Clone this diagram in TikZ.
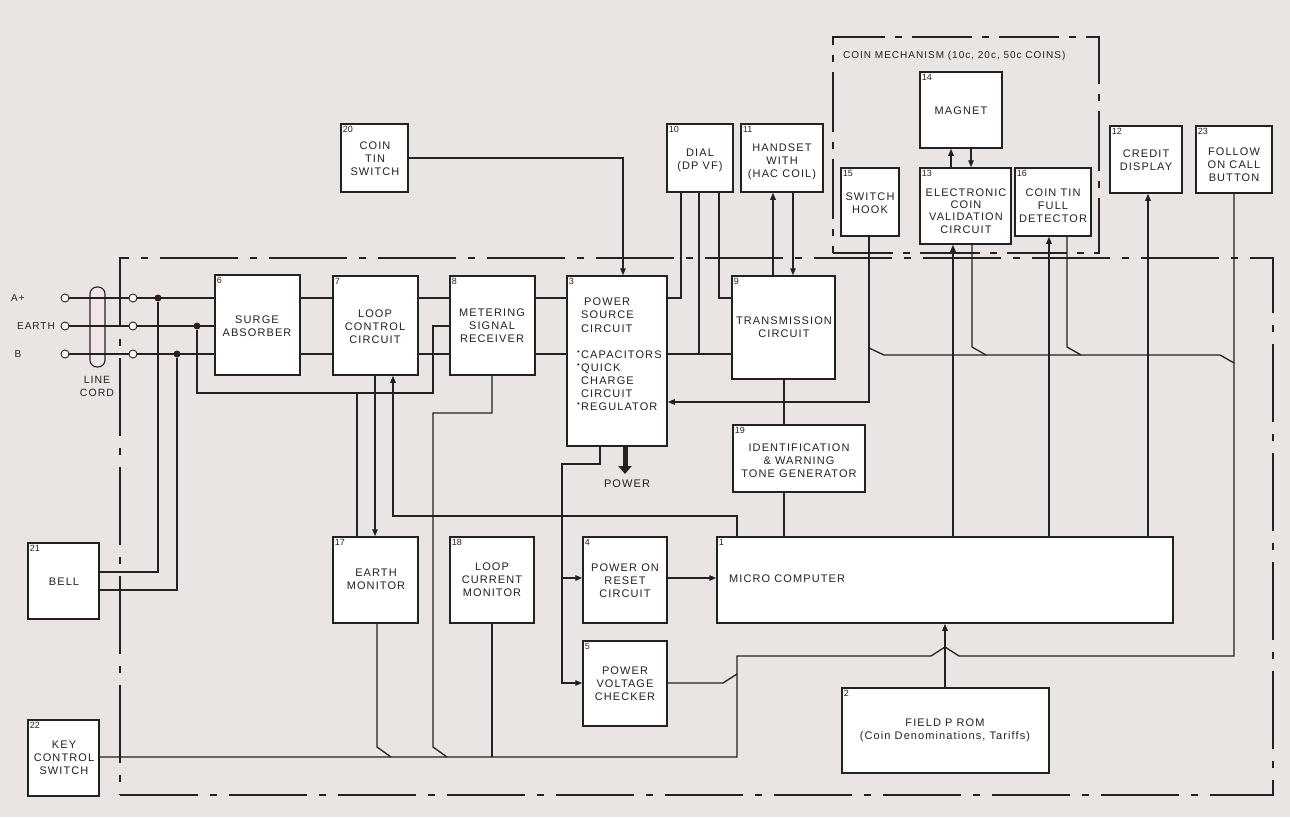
\documentclass[tikz,border=0pt]{standalone}
\usepackage{fontspec}
\setmainfont{Liberation Sans}
\newfontfamily\bxf{Liberation Sans}[LetterSpace=10]
\usetikzlibrary{arrows.meta,fit}
\definecolor{bgc}{RGB}{234,228,226}
\definecolor{ink}{RGB}{35,33,35}
\definecolor{dotc}{RGB}{60,25,35}
\definecolor{cordc}{RGB}{240,230,232}
\newcommand\bbox[6]{\node[blk, fit={(#2,#3)(#4,#5)}] (#1) {};\node[num] (#1n) at (#1.north west) {#6};}
\newcommand\pbul{\llap{\raisebox{4pt}{\scalebox{0.7}{•}}\hspace{1.5pt}}}
\begin{document}
\begin{tikzpicture}[x=1pt,y=-1pt,
 blk/.style={draw=ink, line width=1.5pt, fill=white, inner sep=0pt},
 num/.style={anchor=north west, inner sep=2.5pt, text=ink, font=\fontsize{9}{10}\selectfont},
 txt/.style={align=center, text=ink, inner sep=0pt, font=\bxf\fontsize{11}{13}\selectfont},
 wire/.style={draw=ink, line width=1.3pt},
 arr/.style={wire, -{Triangle[length=7pt,width=5.5pt]}},
 bound/.style={draw=ink, line width=1.3pt, dash pattern=on 78pt off 12pt on 7pt off 12pt, inner sep=0pt},
 term/.style={circle, draw=ink, fill=white, line width=0.9pt, minimum size=8pt, inner sep=0pt},
 jdot/.style={circle, fill=dotc, minimum size=7pt, inner sep=0pt},
 cord/.style={draw=ink, fill=cordc, line width=1.1pt, rounded corners=7pt, inner sep=0pt},
]
\useasboundingbox (0,0) rectangle (1290,817);
\fill[bgc] (0,0) rectangle (1290,817);

% frames
\node[bound, fit={(120,258)(1273,795)}] (frame) {};
\node[bound, dash pattern=on 60pt off 10pt on 7pt off 10pt, fit={(833,37)(1099,253)}] (cm) {};
\node[anchor=west, text=ink, inner sep=0pt, font=\bxf\fontsize{10}{12}\selectfont] (cml) at (843,56) {COIN MECHANISM (10c, 20c, 50c COINS)};

% boxes
\bbox{n6}{215}{275}{300}{375}{6}
\bbox{n7}{333}{276}{418}{375}{7}
\bbox{n8}{450}{276}{535}{375}{8}
\bbox{n3}{567}{276}{667}{446}{3}
\bbox{n9}{732}{276}{835}{379}{9}
\bbox{n19}{733}{425}{865}{492}{19}
\bbox{n1}{717}{537}{1173}{623}{1}
\bbox{n2}{842}{688}{1049}{773}{2}
\bbox{n4}{583}{537}{667}{623}{4}
\bbox{n5}{583}{641}{667}{726}{5}
\bbox{n18}{450}{537}{534}{623}{18}
\bbox{n17}{333}{537}{418}{623}{17}
\bbox{n21}{28}{543}{99}{619}{21}
\bbox{n22}{28}{720}{99}{796}{22}
\bbox{n20}{341}{124}{408}{192}{20}
\bbox{n10}{667}{124}{733}{192}{10}
\bbox{n11}{741}{124}{823}{192}{11}
\bbox{n15}{841}{168}{899}{236}{15}
\bbox{n14}{920}{72}{1002}{148}{14}
\bbox{n13}{920}{168}{1011}{244}{13}
\bbox{n16}{1015}{168}{1091}{236}{16}
\bbox{n12}{1110}{126}{1182}{193}{12}
\bbox{n23}{1196}{126}{1272}{193}{23}

% box texts
\node[txt] (t6) at (257,326) {SURGE\\ABSORBER};
\node[txt] (t7) at (375,327) {LOOP\\CONTROL\\CIRCUIT};
\node[txt] (t8) at (492,326) {METERING\\SIGNAL\\RECEIVER};
\node[txt, align=left, anchor=north west, font=\bxf\fontsize{11}{13.1}\selectfont] (t3) at (581,298)
  {\hspace*{3pt}POWER\\SOURCE\\CIRCUIT\\[13.1pt]\pbul CAPACITORS\\\pbul QUICK\\CHARGE\\CIRCUIT\\\pbul REGULATOR};
\node[txt] (t9) at (784,327) {TRANSMISSION\\CIRCUIT};
\node[txt] (t19) at (799,461) {IDENTIFICATION\\\& WARNING\\TONE GENERATOR};
\node[txt, anchor=west] (t1) at (729,579) {MICRO COMPUTER};
\node[txt] (t2) at (945,730) {FIELD P ROM\\(Coin Denominations, Tariffs)};
\node[txt] (t4) at (625,581) {POWER ON\\RESET\\CIRCUIT};
\node[txt] (t5) at (625,684) {POWER\\VOLTAGE\\CHECKER};
\node[txt] (t18) at (492,580) {LOOP\\CURRENT\\MONITOR};
\node[txt] (t17) at (376,579) {EARTH\\MONITOR};
\node[txt] (t21) at (64,582) {BELL};
\node[txt] (t22) at (64,758) {KEY\\CONTROL\\SWITCH};
\node[txt] (t20) at (375,159) {COIN\\TIN\\SWITCH};
\node[txt] (t10) at (700,160) {DIAL\\(DP VF)};
\node[txt] (t11) at (782,162) {HANDSET\\WITH\\(HAC COIL)};
\node[txt] (t15) at (870,203) {SWITCH\\HOOK};
\node[txt] (t14) at (961,111) {MAGNET};
\node[txt, font=\bxf\fontsize{11}{12.4}\selectfont] (t13) at (966,211) {ELECTRONIC\\COIN\\VALIDATION\\CIRCUIT};
\node[txt] (t16) at (1053,206) {COIN TIN\\FULL\\DETECTOR};
\node[txt] (t12) at (1146,160) {CREDIT\\DISPLAY};
\node[txt] (t23) at (1234,165) {FOLLOW\\ON CALL\\BUTTON};

% line cord and terminals
\node[cord, fit={(90,287)(105,367)}] (cordn) {};
\node[txt, font=\bxf\fontsize{10.5}{13}\selectfont] (lcord) at (97,386) {LINE\\CORD};
\node[txt, anchor=west, font=\bxf\fontsize{10}{12}\selectfont] (lA) at (11,298) {A+};
\node[txt, anchor=east, font=\bxf\fontsize{10}{12}\selectfont] (lE) at (55,326) {EARTH};
\node[txt, font=\bxf\fontsize{10}{12}\selectfont] (lB) at (18,354) {B};
\node[term] (tA1) at (65,298) {}; \node[term] (tA2) at (133,298) {};
\node[term] (tE1) at (65,326) {}; \node[term] (tE2) at (133,326) {};
\node[term] (tB1) at (65,354) {}; \node[term] (tB2) at (133,354) {};
\node[jdot] (dA) at (158,298) {};
\node[jdot] (dE) at (197,326) {};
\node[jdot] (dB) at (177,354) {};

% line wires
\draw[wire] (tA1) -- (tA2); \draw[wire] (tA2) -- (n6.west |- tA2);
\draw[wire] (tE1) -- (tE2); \draw[wire] (tE2) -- (n6.west |- tE2);
\draw[wire] (tB1) -- (tB2); \draw[wire] (tB2) -- (n6.west |- tB2);
\draw[wire] (dA) -- (dA |- 0,572) -- (n21.east |- 0,572);
\draw[wire] (dB) -- (dB |- 0,590) -- (n21.east |- 0,590);
\draw[wire] (dE) -- (dE |- 0,393) -- (433,393) -- (433,326) -- (n8.west |- 0,326);
\foreach \yy in {298,354} {
  \draw[wire] (n6.east |- 0,\yy) -- (n7.west |- 0,\yy);
  \draw[wire] (n7.east |- 0,\yy) -- (n8.west |- 0,\yy);
  \draw[wire] (n8.east |- 0,\yy) -- (n3.west |- 0,\yy);
}

% dial, handset, transmission
\draw[wire] (n3.east |- 0,298) -- (681,298) -- (n10.south -| 681,0);
\draw[wire] (n3.east |- 0,354) -- (n9.west |- 0,354);
\draw[wire] (n10.south -| 699,0) -- (699,354);
\draw[wire] (n10.south -| 719,0) -- (719,298) -- (n9.west |- 0,298);
\draw[arr] (n9.north -| 773,0) -- (n11.south -| 773,0);
\draw[arr] (n11.south -| 793,0) -- (n9.north -| 793,0);
\draw[arr] (n20.east |- 0,158) -- (623,158) -- (n3.north -| 623,0);
\draw[wire] (n9.south -| 784,0) -- (n19.north -| 784,0);
\draw[wire] (n19.south -| 784,0) -- (n1.north -| 784,0);

% switch hook / coin bus
\draw[arr] (n15.south -| 869,0) -- (869,402) -- (n3.east |- 0,402);
\draw[wire] (869,348) -- (884,355) -- (1220,355) -- (1234,363);
\draw[wire] (n13.south -| 972,0) -- (972,347) -- (986,355);
\draw[wire] (n16.south -| 1067,0) -- (1067,347) -- (1081,355);
\draw[wire] (n23.south -| 1234,0) -- (1234,656) -- (959,656) -- (945,647) -- (931,656) -- (737,656) -- (737,757) -- (n22.east |- 0,757);
\draw[wire] (n5.east |- 0,683) -- (723,683) -- (737,674);

% lower bus
\draw[wire] (n17.south -| 377,0) -- (377,747) -- (391,757);
\draw[wire] (n8.south -| 492,0) -- (492,413) -- (433,413) -- (433,747) -- (447,757);
\draw[wire] (n18.south -| 492,0) -- (492,757);
\draw[arr] (n1.north -| 737,0) -- (737,516) -- (393,516) -- (n7.south -| 393,0);
\draw[arr] (n7.south -| 375,0) -- (n17.north -| 375,0);
\draw[wire] (357,393) -- (n17.north -| 357,0);

% power
\draw[arr] (n3.south -| 600,0) -- (600,464) -- (562,464) -- (562,683) -- (n5.west |- 0,683);
\draw[arr] (562,578) -- (n4.west |- 0,578);
\draw[arr] (n4.east |- 0,578) -- (n1.west |- 0,578);
\draw[line width=5pt, ink, -{Triangle[length=8pt,width=13pt]}] (n3.south -| 625,0) -- (625,474);
\node[txt] (pw) at (627,484) {POWER};

% micro computer links
\draw[arr] (n1.north -| 953,0) -- (n13.south -| 953,0);
\draw[arr] (n1.north -| 1049,0) -- (n16.south -| 1049,0);
\draw[arr] (n1.north -| 1148,0) -- (n12.south -| 1148,0);
\draw[arr] (n2.north -| 945,0) -- (n1.south -| 945,0);
\draw[arr] (n13.north -| 951,0) -- (n14.south -| 951,0);
\draw[arr] (n14.south -| 971,0) -- (n13.north -| 971,0);
\end{tikzpicture}
\end{document}
